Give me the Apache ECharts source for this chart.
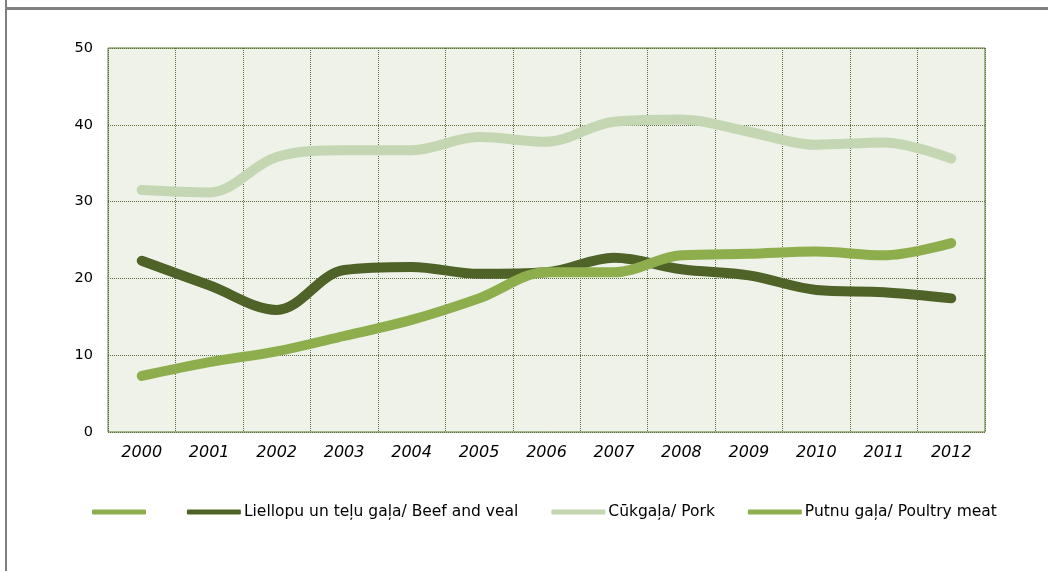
<!DOCTYPE html>
<html>
<head>
<meta charset="utf-8">
<script src="https://cdn.jsdelivr.net/npm/echarts@6/dist/echarts.min.js"></script>
<style>
html,body{margin:0;padding:0;background:#fff;}
#chart{width:1048px;height:571px;}
</style>
</head>
<body>
<div id="chart"></div>
<script>
const years = ['2000','2001','2002','2003','2004','2005','2006','2007','2008','2009','2010','2011','2012'];
const beef = [22.3, 19.1, 15.9, 21.1, 21.5, 20.6, 20.8, 22.7, 21.2, 20.4, 18.5, 18.2, 17.4];
const pork = [31.5, 31.2, 35.8, 36.7, 36.7, 38.4, 37.8, 40.4, 40.7, 39.1, 37.4, 37.7, 35.6];
const poultry = [7.3, 9.1, 10.5, 12.5, 14.6, 17.4, 20.8, 20.8, 23.0, 23.2, 23.5, 23.0, 24.6];
const names = [' ', 'Liellopu un teļu gaļa/ Beef and veal', 'Cūkgaļa/ Pork', 'Putnu gaļa/ Poultry meat'];
const yTicks = [0, 10, 20, 30, 40, 50];

const cBeef = '#4f6228', cPork = '#c4d6b2', cPoultry = '#8eae4e';
const font = '"DejaVu Sans", Verdana, sans-serif';

const chart = echarts.init(document.getElementById('chart'), null, {renderer: 'canvas'});
function lineSeries(name, data, color, z) {
  return {
    name: name, type: 'line', data: data, smooth: 0.35, symbol: 'none', z: z,
    lineStyle: {color: color, width: 10, cap: 'round', join: 'round'},
    itemStyle: {color: color}
  };
}
chart.setOption({
  animation: false,
  backgroundColor: '#ffffff',
  textStyle: {fontFamily: font},
  grid: {left: 108, right: 63, top: 48, bottom: 139, show: true,
         backgroundColor: '#eff2e9', borderColor: '#5a7a2a', borderWidth: 1},
  xAxis: {
    type: 'category', data: years, boundaryGap: true,
    axisLine: {show: false}, axisTick: {show: false},
    axisLabel: {fontFamily: font, fontSize: 16, fontStyle: 'italic', color: '#000', margin: 13},
    splitLine: {show: true, lineStyle: {color: '#5d6e3d', type: [1, 1], width: 1}}
  },
  yAxis: {
    type: 'value', min: yTicks[0], max: yTicks[yTicks.length - 1], interval: 10,
    axisLine: {show: false}, axisTick: {show: false},
    axisLabel: {fontFamily: font, fontSize: 14.5, color: '#000', margin: 15},
    splitLine: {show: true, lineStyle: {color: '#5d6e3d', type: [1, 1], width: 1}}
  },
  legend: {
    left: 87, top: 499, itemGap: 33, itemWidth: 54, itemHeight: 5, icon: 'roundRect',
    data: names,
    textStyle: {fontFamily: font, fontSize: 15.5, color: '#000', padding: [0, 0, 0, -2]}
  },
  series: [
    lineSeries(names[0], [], cPoultry, 1),
    lineSeries(names[2], pork, cPork, 2),
    lineSeries(names[1], beef, cBeef, 3),
    lineSeries(names[3], poultry, cPoultry, 4)
  ],
  graphic: [
    {type: 'rect', shape: {x: 6, y: 7, width: 1042, height: 3}, style: {fill: '#808080'}, z: 100},
    {type: 'rect', shape: {x: 5, y: 0, width: 2, height: 571}, style: {fill: '#808080'}, z: 100}
  ]
});
</script>
</body>
</html>
